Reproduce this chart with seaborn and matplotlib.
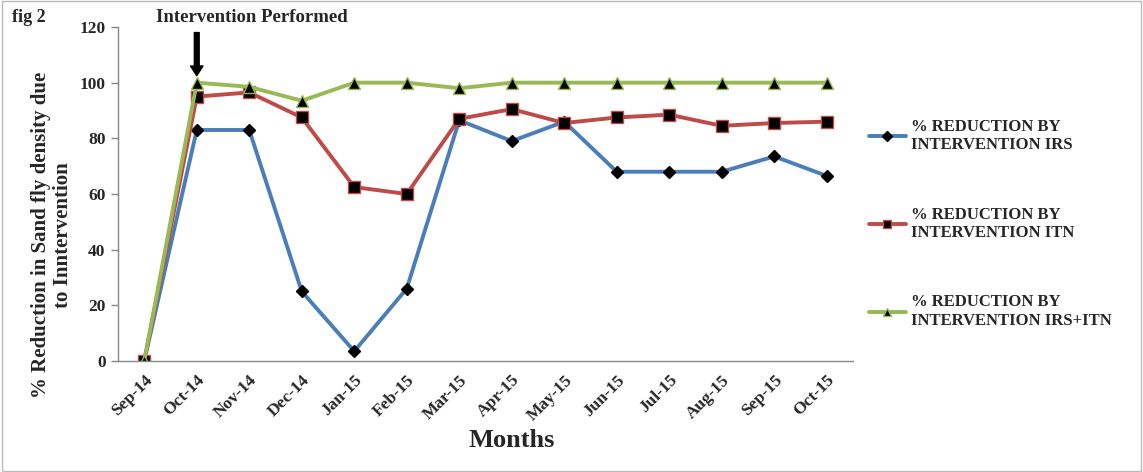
import pandas as pd
import seaborn as sns
import matplotlib.pyplot as plt
from matplotlib.patches import Rectangle

months = ["Sep-14", "Oct-14", "Nov-14", "Dec-14", "Jan-15", "Feb-15", "Mar-15",
          "Apr-15", "May-15", "Jun-15", "Jul-15", "Aug-15", "Sep-15", "Oct-15"]
irs = [0, 83, 83, 25, 3.5, 26, 86.5, 79, 86, 68, 68, 68, 73.5, 66.5]
itn = [0, 95, 96.5, 87.5, 62.5, 60, 87, 90.5, 85.5, 87.5, 88.5, 84.5, 85.5, 86]
irs_itn = [0, 100, 98.5, 93.5, 100, 100, 98, 100, 100, 100, 100, 100, 100, 100]

labels = ["% REDUCTION BY\nINTERVENTION IRS",
          "% REDUCTION BY\nINTERVENTION ITN",
          "% REDUCTION BY\nINTERVENTION IRS+ITN"]

sns.set_style("white")
plt.rcParams["font.family"] = ["Liberation Serif", "DejaVu Serif"]
plt.rcParams["font.weight"] = "bold"

fig = plt.figure(figsize=(11.43, 4.72), dpi=100)
ax = fig.add_axes([118 / 1143, 1 - 361 / 472, (853 - 118) / 1143, (361 - 27) / 472])

styles = [
    (irs, "#4a7ebb", "D", "black", 6),
    (itn, "#be4b48", "s", "#be4b48", 8),
    (irs_itn, "#98b954", "^", "#98b954", 8),
]
for (vals, col, mk, edge, ms), lab in zip(styles, labels):
    df = pd.DataFrame({"Month": months, "Value": vals})
    sns.lineplot(data=df, x="Month", y="Value", ax=ax, color=col, linewidth=2.8,
                 marker=mk, markersize=ms, markerfacecolor="black",
                 markeredgecolor=edge, markeredgewidth=1.0, label=lab, sort=False)

ax.set_xlim(-0.5, len(months) - 0.5)
ax.set_ylim(0, 120)
ax.set_yticks(range(0, 121, 20))
ax.set_yticklabels([str(v) for v in range(0, 121, 20)], fontsize=12.5, fontweight="bold")
ax.set_xticks(range(len(months)))
ax.set_xticklabels(months, rotation=45, ha="right", rotation_mode="anchor",
                   fontsize=12.5, fontweight="bold")
ax.set_xticks([i - 0.5 for i in range(len(months) + 1)], minor=True)
ax.tick_params(axis="x", which="major", length=0, pad=8)
ax.tick_params(axis="x", which="minor", length=5, color="#888888", width=1, direction="out")
ax.tick_params(axis="y", length=5, color="#888888", width=1, direction="out", left=True, pad=4)
for s in ["top", "right"]:
    ax.spines[s].set_visible(False)
for s in ["left", "bottom"]:
    ax.spines[s].set_color("#888888")
    ax.spines[s].set_linewidth(1)

ax.set_xlabel("Months", fontsize=19, fontweight="bold")
ax.xaxis.set_label_coords((512 - 118) / 735, -(429 - 361) / 334)
ax.set_ylabel("% Reduction in Sand fly density due\nto Inntervention", fontsize=15,
              fontweight="bold", linespacing=1.15)
ax.yaxis.set_label_coords((73 - 118) / 735, (361 - 235) / 334)

ax.legend(loc="upper left", bbox_to_anchor=(854 / 1143, 1 - 104 / 472),
          bbox_transform=fig.transFigure, frameon=False,
          prop={"weight": "bold", "size": 12}, labelspacing=3.2, handlelength=2.2,
          handletextpad=0.3, markerscale=0.8)

fig.text(12 / 1143, 1 - 18 / 472, "fig 2", fontsize=13, fontweight="bold", va="center")
ax.annotate("Intervention Performed", xy=(1, 101), xytext=(156 / 1143, 1 - 18 / 472),
            textcoords="figure fraction", fontsize=13.5, fontweight="bold", va="center",
            ha="left")
ax.annotate("", xy=(1, 101.5), xytext=(1, 119),
            arrowprops=dict(arrowstyle="simple,head_width=0.9,head_length=0.7,tail_width=0.35",
                            color="black"), annotation_clip=False)

fig.patches.append(Rectangle((0.002, 0.003), 0.996, 0.994, transform=fig.transFigure,
                             fill=False, edgecolor="#bbbbbb", linewidth=1))

fig.savefig("out.png", dpi=100)
